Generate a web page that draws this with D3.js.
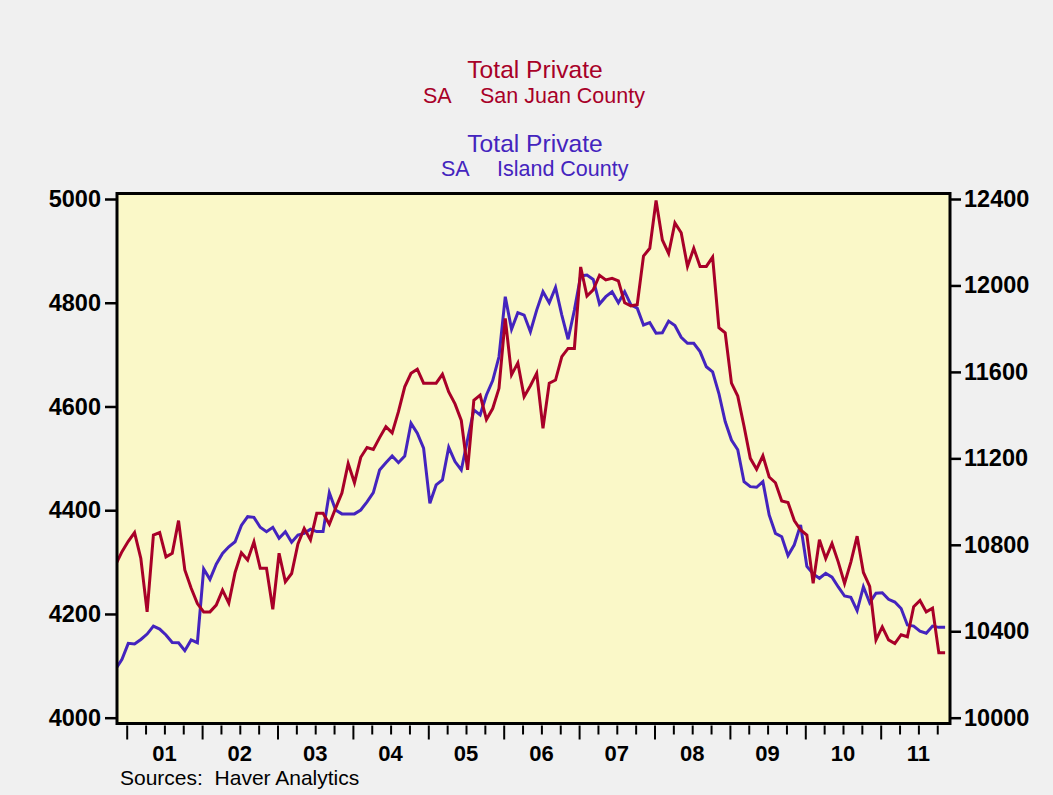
<!DOCTYPE html>
<html><head><meta charset="utf-8">
<script src="https://cdn.jsdelivr.net/npm/d3@7"></script>
<style>
body{margin:0;background:#F0F0F0}
svg{display:block}
text{font-family:"Liberation Sans",Arial,Helvetica,sans-serif}
</style>
</head><body>
<svg id="c" width="1053" height="795"></svg>
<script>
// Monthly data, Nov 2000 .. Nov 2011 (months counted from Jan 2001 = 0)
const firstMonth = -2; // Nov 2000
const sanJuan = [
4295,4320,4340,4357,4307,4204,4352,4357,4310,4317,
4380,4285,4250,4220,4204,4204,4217,4246,4221,4280,
4318,4304,4339,4288,4288,4209,4317,4262,4278,4335,
4365,4343,4394,4394,4373,4404,4433,4490,4453,4502,
4521,4517,4540,4561,4549,4590,4638,4664,4672,4645,
4645,4645,4662,4628,4605,4573,4478,4612,4622,4575,
4596,4635,4770,4661,4684,4619,4640,4664,4558,4645,
4651,4696,4712,4712,4869,4813,4825,4853,4844,4847,
4842,4800,4794,4796,4890,4905,4997,4921,4895,4954,
4935,4870,4905,4870,4870,4888,4752,4742,4645,4620,
4562,4500,4479,4505,4464,4453,4418,4415,4380,4362,
4352,4259,4343,4307,4336,4300,4259,4300,4350,4280,
4253,4150,4175,4150,4143,4160,4156,4214,4226,4204,
4211,4125,4125];
const island = [
10225,10270,10344,10341,10362,10387,10424,10410,10383,10348,
10347,10310,10360,10347,10688,10640,10710,10760,10791,10814,
10890,10930,10927,10881,10861,10881,10830,10861,10812,10845,
10853,10872,10861,10861,11041,10961,10943,10943,10943,10961,
10999,11041,11146,11180,11211,11180,11211,11362,11316,11247,
10992,11077,11100,11251,11185,11146,11287,11424,11401,11493,
11560,11670,11948,11797,11874,11863,11786,11886,11971,11920,
11991,11863,11751,11886,12044,12048,12028,11914,11948,11971,
11920,11971,11910,11895,11817,11828,11779,11781,11835,11815,
11760,11732,11732,11694,11624,11600,11500,11370,11285,11240,
11092,11069,11066,11092,10938,10853,10837,10750,10800,10892,
10700,10665,10645,10668,10650,10605,10563,10557,10495,10606,
10532,10576,10578,10548,10535,10505,10429,10424,10400,10391,
10424,10418,10418];
const leftTicks = [4000,4200,4400,4600,4800,5000];
const rightTicks = [10000,10400,10800,11200,11600,12000,12400];
const yearLabels = ["01","02","03","04","05","06","07","08","09","10","11"];

const RED = "#A80028", BLUE = "#4424BE";
const svg = d3.select("#c");
const L = 117, R = 950, T = 193.5, B = 723.5;

const x = d3.scaleLinear().domain([-1.544, 131.03]).range([L, R]);
const yL = d3.scaleLinear().domain([4000, 5000]).range([717.7, 199]);
const yR = d3.scaleLinear().domain([10000, 12400]).range([717.7, 199]);

// titles
const tit = svg.append("g");
tit.append("text").attr("x",535).attr("y",78).attr("text-anchor","middle")
  .attr("font-size",24.6).attr("fill",RED).text("Total Private");
tit.append("text").attr("x",423).attr("y",103).attr("font-size",21.5).attr("fill",RED).text("SA");
tit.append("text").attr("x",480).attr("y",103).attr("font-size",21.5).attr("fill",RED).text("San Juan County");
tit.append("text").attr("x",535).attr("y",151.5).attr("text-anchor","middle")
  .attr("font-size",24.6).attr("fill",BLUE).text("Total Private");
tit.append("text").attr("x",441).attr("y",176).attr("font-size",21.5).attr("fill",BLUE).text("SA");
tit.append("text").attr("x",497).attr("y",176).attr("font-size",21.5).attr("fill",BLUE).text("Island County");

// plot background
svg.append("rect").attr("x",L).attr("y",T).attr("width",R-L).attr("height",B-T).attr("fill","#FAF8C8");

svg.append("clipPath").attr("id","clip").append("rect")
  .attr("x",L).attr("y",T).attr("width",R-L).attr("height",B-T);

const pos = i => x(firstMonth + i + 0.25);
const lineL = d3.line().x((d,i)=>pos(i)).y(d=>yL(d));
const lineR = d3.line().x((d,i)=>pos(i)).y(d=>yR(d));
const gl = svg.append("g").attr("clip-path","url(#clip)");
gl.append("path").datum(island).attr("d",lineR).attr("fill","none")
  .attr("stroke",BLUE).attr("stroke-width",3);
gl.append("path").datum(sanJuan).attr("d",lineL).attr("fill","none")
  .attr("stroke",RED).attr("stroke-width",3);

// frame
svg.append("rect").attr("x",L).attr("y",T).attr("width",R-L).attr("height",B-T)
  .attr("fill","none").attr("stroke","#000").attr("stroke-width",3);

// left axis
const ax1 = svg.append("g").attr("transform",`translate(${L-1},0)`)
  .call(d3.axisLeft(yL).tickValues(leftTicks).tickSize(11).tickPadding(4).tickFormat(d3.format("d")));
// right axis
const ax2 = svg.append("g").attr("transform",`translate(${R+1},0)`)
  .call(d3.axisRight(yR).tickValues(rightTicks).tickSize(10).tickPadding(3).tickFormat(d3.format("d")));
[ax1,ax2].forEach(a=>{
  a.select(".domain").remove();
  a.selectAll(".tick line").attr("stroke","#000").attr("stroke-width",2.5);
  a.selectAll(".tick text").attr("font-size",23.5).attr("font-weight","bold")
    .attr("fill","#000").attr("font-family",'"Liberation Sans",Arial,sans-serif');
});

// bottom axis: quarterly ticks, long at year start
const quarters = d3.range(0, 131, 3);
const ax3 = svg.append("g").attr("transform",`translate(0,${B+2})`)
  .call(d3.axisBottom(x).tickValues(quarters).tickSize(9).tickFormat(""));
ax3.select(".domain").remove();
ax3.selectAll(".tick line").attr("stroke","#000").attr("stroke-width",2)
  .attr("y2", d => d % 12 === 0 ? 14 : 9);
svg.append("g").selectAll("text").data(yearLabels).join("text")
  .attr("x",(d,i)=>x(i*12+6)).attr("y",761).attr("text-anchor","middle")
  .attr("font-size",22).attr("font-weight","bold").attr("fill","#000").text(d=>d);

svg.append("text").attr("x",120).attr("y",785).attr("font-size",21).attr("fill","#000")
  .attr("xml:space","preserve").style("white-space","pre").text("Sources:  Haver Analytics");
</script>
</body></html>
